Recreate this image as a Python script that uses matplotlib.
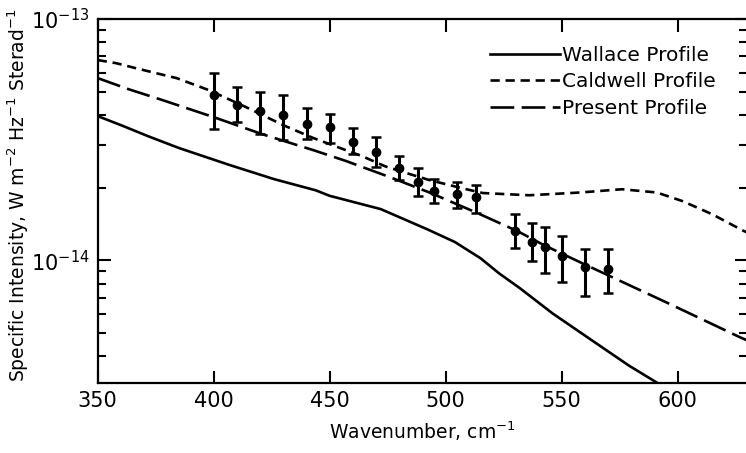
import numpy as np
import matplotlib.pyplot as plt
from matplotlib.ticker import LogLocator, NullFormatter, FixedLocator

# model profiles (wavenumber cm-1, specific intensity)
wallace_wn = [350, 361, 372, 385, 407, 426, 444, 450, 472, 492, 504, 515, 523, 532,
              546, 563, 579, 593, 605]
wallace_si = [3.96e-14, 3.60e-14, 3.26e-14, 2.92e-14, 2.48e-14, 2.17e-14, 1.95e-14,
              1.85e-14, 1.63e-14, 1.345e-14, 1.19e-14, 1.02e-14, 8.83e-15, 7.66e-15,
              6.03e-15, 4.66e-15, 3.66e-15, 3.03e-15, 2.6e-15]

caldwell_wn = [350, 358, 366, 375, 384, 398, 414, 430, 443, 457, 464, 474, 483, 493,
               507, 516, 536, 558, 576, 591, 602, 615, 628, 631]
caldwell_si = [6.76e-14, 6.56e-14, 6.27e-14, 5.97e-14, 5.69e-14, 5.07e-14, 4.31e-14,
               3.63e-14, 3.21e-14, 2.86e-14, 2.70e-14, 2.45e-14, 2.30e-14, 2.15e-14,
               1.99e-14, 1.90e-14, 1.86e-14, 1.91e-14, 1.97e-14, 1.91e-14, 1.76e-14,
               1.55e-14, 1.33e-14, 1.29e-14]

present_wn = [350, 363, 378, 400, 421, 443, 457, 476, 493, 513, 531, 542, 558, 572,
              595, 627, 631]
present_si = [5.69e-14, 5.13e-14, 4.61e-14, 3.92e-14, 3.33e-14, 2.86e-14, 2.58e-14,
              2.21e-14, 1.91e-14, 1.58e-14, 1.32e-14, 1.16e-14, 9.81e-15, 8.49e-15,
              6.70e-15, 4.79e-15, 4.61e-15]

# measured points with error bar top / bottom
meas_wn = [400, 410, 420, 430, 440, 450, 460, 470, 480, 488, 495, 505, 513,
           530, 537, 543, 550, 560, 570]
meas_si = [4.84e-14, 4.40e-14, 4.15e-14, 4.00e-14, 3.66e-14, 3.56e-14, 3.09e-14,
           2.81e-14, 2.41e-14, 2.11e-14, 1.93e-14, 1.88e-14, 1.83e-14, 1.32e-14,
           1.19e-14, 1.13e-14, 1.04e-14, 9.35e-15, 9.18e-15]
meas_hi = [5.97e-14, 5.22e-14, 4.98e-14, 4.84e-14, 4.28e-14, 4.04e-14, 3.53e-14,
           3.24e-14, 2.70e-14, 2.41e-14, 2.17e-14, 2.11e-14, 2.05e-14, 1.55e-14,
           1.43e-14, 1.37e-14, 1.26e-14, 1.11e-14, 1.11e-14]
meas_lo = [3.50e-14, 3.74e-14, 3.33e-14, 3.15e-14, 3.18e-14, 3.06e-14, 2.76e-14,
           2.43e-14, 2.15e-14, 1.85e-14, 1.73e-14, 1.64e-14, 1.57e-14, 1.12e-14,
           9.9e-15, 8.9e-15, 8.1e-15, 7.1e-15, 7.3e-15]

xticks = [350, 400, 450, 500, 550, 600]
yticks = [1e-14, 1e-13]

fig = plt.figure(figsize=(7.46, 4.53), dpi=100)
ax = fig.add_axes([0.131, 0.1545, 0.8707, 0.8035])

lw = 1.9
l1, = ax.plot(wallace_wn, wallace_si, color='k', lw=lw, label='Wallace Profile')
l2, = ax.plot(caldwell_wn, caldwell_si, color='k', lw=lw, dashes=(3.5, 2.2),
              label='Caldwell Profile')
l3, = ax.plot(present_wn, present_si, color='k', lw=lw, dashes=(9, 2.8),
              label='Present Profile')

si = np.array(meas_si)
yerr = [si - np.array(meas_lo), np.array(meas_hi) - si]
ax.errorbar(meas_wn, meas_si, yerr=yerr, fmt='o', color='k', ms=6,
            elinewidth=2.2, capsize=3.6, capthick=1.8, zorder=5)

ax.set_yscale('log')
ax.set_xlim(350, 630)
ax.set_ylim(3.1e-15, 1e-13)
ax.set_xticks(xticks)
ax.xaxis.set_minor_locator(FixedLocator([]))
ax.yaxis.set_major_locator(FixedLocator(yticks))
ax.yaxis.set_minor_locator(LogLocator(base=10, subs=np.arange(2, 10)))
ax.yaxis.set_minor_formatter(NullFormatter())

ax.tick_params(which='both', direction='in', top=True, right=True, width=1.5)
ax.tick_params(which='major', length=9, labelsize=15, pad=6)
ax.tick_params(which='minor', length=6)
for s in ax.spines.values():
    s.set_linewidth(1.6)

ax.set_xlabel(r'Wavenumber, cm$^{-1}$', fontsize=13.5, labelpad=6)
ax.set_ylabel(r'Specific Intensity, W m$^{-2}$ Hz$^{-1}$ Sterad$^{-1}$', fontsize=13.5)
ax.yaxis.set_label_coords(-0.102, 0.515)

ax.legend(handles=[l1, l2, l3], loc='upper left', bbox_to_anchor=(0.643, 0.921),
          bbox_transform=fig.transFigure, frameon=False, fontsize=14.5,
          handlelength=3.5, handletextpad=0.1, labelspacing=0.37, borderpad=0)

fig.savefig('out.png', dpi=100)
